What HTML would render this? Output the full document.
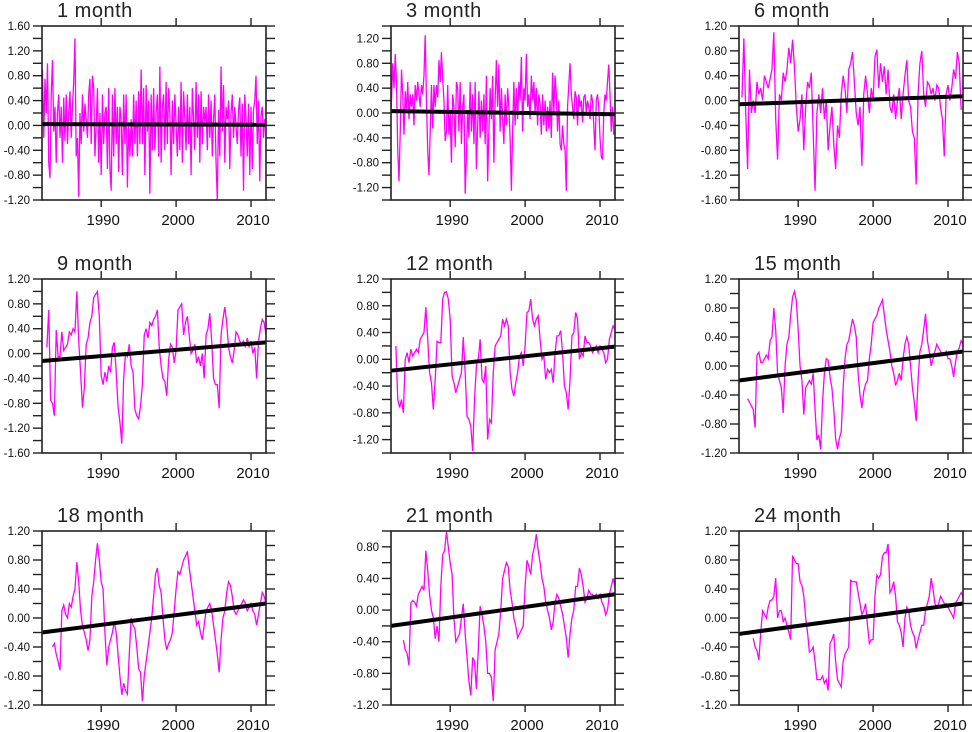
<!DOCTYPE html>
<html><head><meta charset="utf-8">
<style>
html,body{margin:0;padding:0;background:#fff;}
svg{display:block;font-family:"Liberation Sans",sans-serif;}
</style></head>
<body>
<svg id="chart" width="972" height="732" viewBox="0 0 972 732" xmlns="http://www.w3.org/2000/svg"></svg>
<script>
const titles = ["1 month","3 month","6 month","9 month","12 month","15 month","18 month","21 month","24 month"];
const yMins = [-1.2,-1.4,-1.6,-1.6,-1.4,-1.2,-1.2,-1.2,-1.2];
const yMaxs = [1.6,1.4,1.2,1.2,1.2,1.2,1.2,1.0,1.2];
const trendStart = [0.02,0.03,-0.06,-0.12,-0.17,-0.2,-0.2,-0.2,-0.22];
const trendEnd = [0.01,-0.02,0.07,0.18,0.19,0.2,0.2,0.2,0.2];
const seriesStart = [1982.0,1982.0,1982.5,1982.75,1982.75,1983.25,1983.5,1983.75,1984.0];
const seriesStep = [1/6,1/6,0.25,0.25,0.25,0.25,0.25,0.25,0.25];
const xTicks = [1990,2000,2010];

const v1 = [-0.3,0.9,-0.2,0.75,0.2,1.0, -0.6,-0.85,0.5,1.05,-0.1,0.3, -0.6,0.2,0.5,-0.2,0.3,-0.6, 0.45,-0.25,0.5,-0.3,0.2,0.55, -0.2,0.3,0.7,1.4,-0.5,-0.2, -1.15,0.2,-0.3,0.5,-0.1,0.35, 0.1,-0.2,0.5,0.75,-0.3,0.8, 0.6,-0.5,0.0,0.6,-0.6,0.2, -0.8,0.5,-0.3,0.2,0.3,-0.7, 0.6,-0.7,-1.05,0.5,-0.5,0.6, -0.3,0.3,-0.75,0.3,0.1,-0.8, 0.5,-0.3,0.5,-1.0,0.0,-0.5, 0.1,-0.5,0.5,-0.3,0.4,-0.5, 0.55,-0.3,0.9,-0.3,0.6,-0.8, 0.65,-0.1,0.4,-1.1,0.5,-0.4, 0.6,-0.4,0.2,0.5,-0.5,0.95, -0.6,0.3,0.5,-0.4,0.7,-0.3, 0.6,0.2,-0.8,0.4,-0.3,0.5, 0.0,-0.5,0.3,-0.4,0.7,-0.6, 0.55,0.1,-0.4,0.5,-0.3,0.3, -0.8,0.6,0.1,-0.4,0.7,-0.2, 0.5,-0.6,0.55,-0.3,0.3,0.05, 0.3,-0.4,0.5,-0.2,0.4,-0.5, 0.1,0.5,-0.6,-1.2,0.25,-0.5, 0.95,-0.1,0.65,-0.6,0.3,0.1, 0.4,-0.7,0.2,0.5,-0.2,0.3, 0.0,-0.3,0.25,0.45,-0.5,0.35, -1.05,0.5,0.1,-0.5,0.35,-0.8, 0.3,-0.7,0.25,0.4,0.8,-0.3, 0.4,-0.9,0.15,0.3,-0.2,0.1];
const v2 = [-0.25,0.2,0.8,0.4,0.95,0.5, -0.6,-1.1,-0.3,0.7,0.3,-0.35, 0.35,0.0,0.5,-0.1,0.3,0.1, 0.3,-0.2,0.45,0.2,0.5,0.3, 0.1,0.45,0.3,0.6,1.25,0.2, -0.6,-1.0,-0.3,0.45,-0.25,0.45, 0.1,0.45,0.25,0.85,0.5,0.98, 0.55,0.2,-0.45,-0.3,0.45,-0.35, 0.0,-0.8,0.3,0.1,-0.55,0.5, 0.4,-0.3,0.5,-0.5,0.1,0.3, -1.3,-0.7,0.05,-0.4,0.5,-0.3, 0.3,-0.5,0.5,-0.9,-0.2,0.35, -0.4,0.2,-0.3,0.3,-0.5,0.6, -1.1,-0.3,0.4,-0.1,0.6,-0.8, 0.2,0.85,0.1,0.78,-0.3,0.4, -0.1,-0.5,0.3,-0.2,0.4,0.1, -0.4,-1.25,-0.3,0.5,-0.2,0.4, -0.1,0.5,0.2,0.9,-0.3,0.4, 0.2,0.95,0.1,0.3,-0.1,0.6, 0.2,0.5,0.0,0.4,-0.2,0.3, 0.15,-0.35,0.3,-0.2,0.2,-0.3, 0.1,-0.25,0.2,-0.4,0.65,0.0, 0.6,0.3,-0.3,0.2,-0.5,-0.6, -0.2,-0.5,-0.6,-1.25,0.1,0.45, 0.8,0.3,0.1,-0.1,0.35,0.25, -0.2,0.3,0.1,0.2,-0.15,0.25, 0.3,0.0,0.2,0.1,-0.1,0.3, 0.2,-0.2,-0.6,0.2,0.3,0.1, -0.4,-0.7,-0.75,0.0,0.3,0.2, 0.5,0.78,0.3,-0.3,0.1,-0.35];
const v3 = [0.05,1.0, -0.2,-1.1,0.5,-0.2, 0.0,-0.2,0.3,0.1, 0.2,0.0,0.4,0.3, 0.2,0.35,0.5,1.1, -0.3,-0.95,0.1,0.0, 0.45,0.3,0.5,0.85, 0.6,0.98,0.55,-0.1, -0.5,-0.3,0.1,-0.8, -0.1,0.3,0.2,0.45, -0.5,-1.45,-0.2,0.1, -0.2,0.2,-0.3,0.0, -0.8,-0.4,-0.1,-0.7, -1.1,-0.4,-0.6,0.1, 0.4,0.2,-0.2,0.5, 0.6,0.78,0.3,-0.2, -0.4,-0.1,-1.05,0.1, 0.4,0.1,-0.2,0.2, 0.0,0.7,0.82,0.2, 0.6,0.3,0.55,0.1, 0.5,-0.1,-0.2,0.1, -0.3,0.0,0.2,-0.3, 0.1,0.4,0.65,0.0, -0.1,-0.5,-0.6,-1.35, 0.1,0.6,0.8,0.1, -0.1,0.3,0.25,0.1, 0.2,0.0,0.25,0.2, -0.1,-0.3,-0.9,0.1, 0.25,0.0,0.2,0.5, 0.35,0.78,0.6,-0.15];
const v4 = [0.1, 0.7,-0.75,-0.8,-1.0, 0.38,-0.05,-0.05,0.35, 0.05,0.1,0.15,0.35, 0.3,0.4,0.35,1.0, 0.2,-0.3,-0.87,-0.55, 0.15,0.25,0.5,0.6, 0.9,0.95,1.0,0.6, -0.35,-0.5,-0.3,-0.45, -0.2,-0.3,0.1,0.18, -0.3,-0.85,-1.1,-1.45, -0.4,0.0,-0.05,0.15, -0.2,-0.3,-0.9,-1.0, -1.05,-0.85,-0.5,0.3, 0.4,0.25,0.5,0.45, 0.55,0.6,0.7,0.1, -0.2,-0.4,-0.45,-0.68, -0.1,0.15,0.1,-0.15, 0.05,0.7,0.75,0.8, 0.3,0.5,0.6,0.3, 0.0,0.05,0.15,-0.15, -0.05,-0.2,0.0,-0.4, 0.3,0.4,0.65,0.2, -0.4,-0.5,-0.5,-0.88, 0.3,0.55,0.75,0.5, 0.1,-0.05,-0.15,0.05, 0.35,0.3,0.2,0.15, 0.2,0.1,0.25,0.1, 0.2,0.0,0.1,-0.4, 0.2,0.4,0.55,0.5, 0.3];
const v5 = [0.2, -0.6,-0.72,-0.6,-0.8, 0.0,0.1,-0.05,0.15, 0.05,0.1,0.15,0.1, 0.3,0.35,0.4,0.78, 0.3,-0.2,-0.35,-0.75, -0.3,0.27,0.25,0.25, 0.9,1.0,1.01,0.9, 0.6,-0.25,-0.35,-0.5, -0.4,-0.3,-0.2,0.33, -0.2,-0.85,-0.9,-1.0, -1.37,-0.6,-0.1,0.0, 0.3,-0.3,-0.35,-0.1, -1.2,-0.9,-0.95,-0.2, 0.2,0.25,0.3,0.35, 0.6,0.5,0.6,0.5, -0.2,-0.45,-0.55,-0.35, -0.2,0.05,0.1,-0.1, 0.2,0.7,0.72,0.9, 0.6,0.5,0.6,0.65, 0.3,0.0,0.05,-0.3, -0.15,-0.2,-0.15,-0.35, 0.1,0.35,0.35,0.43, 0.1,-0.4,-0.5,-0.75, -0.3,0.35,0.4,0.7, 0.6,0.0,0.1,0.05, 0.35,0.25,0.25,0.2, 0.1,0.15,0.2,0.1, 0.2,0.15,0.1,-0.05, 0.0,0.3,0.4,0.5, 0.45];
const v6 = [-0.45,-0.5,-0.55, -0.6,-0.85,0.15,0.19, 0.05,0.05,0.1,0.15, 0.1,0.35,0.4,0.8, 0.5,-0.1,-0.2,-0.3, -0.65,0.0,0.3,0.4, 0.7,0.95,1.03,0.9, 0.5,0.0,-0.2,-0.67, -0.3,-0.25,-0.2,-0.25, -0.1,-0.6,-1.02,-0.95, -1.15,-0.5,-0.1,0.1, 0.08,-0.15,-0.3,-0.6, -1.0,-1.15,-1.0,-0.9, -0.3,0.1,0.3,0.35, 0.5,0.65,0.55,0.4, -0.1,-0.4,-0.58,-0.35, -0.25,-0.2,0.1,0.3, 0.6,0.65,0.7,0.8, 0.85,0.91,0.7,0.5, 0.35,0.2,0.0,-0.1, -0.27,-0.2,-0.1,-0.2, 0.1,0.3,0.4,0.3, 0.0,-0.3,-0.5,-0.76, -0.2,0.2,0.3,0.5, 0.72,0.35,0.2,0.0, 0.1,0.2,0.3,0.25, 0.2,0.15,0.15,0.2, 0.1,0.1,0.0,-0.15, 0.05,0.2,0.25,0.35, 0.3];
const v7 = [-0.4,-0.35, -0.5,-0.6,-0.72,0.1, 0.18,0.05,0.0,0.2, 0.15,0.3,0.4,0.77, 0.5,0.1,-0.1,-0.2, -0.3,-0.45,-0.3,0.3, 0.5,0.8,1.03,0.8, 0.5,0.4,-0.2,-0.65, -0.4,-0.3,-0.2,-0.05, -0.2,-0.5,-0.8,-1.06, -0.9,-1.0,-1.05,-0.5, 0.0,-0.1,-0.15,-0.4, -0.7,-0.75,-1.15,-0.8, -0.6,-0.4,-0.2,0.0, 0.3,0.6,0.69,0.45, 0.35,0.0,-0.3,-0.44, -0.35,-0.3,-0.2,0.1, 0.4,0.64,0.6,0.7, 0.8,0.85,0.92,0.7, 0.5,0.3,0.1,-0.1, -0.05,-0.2,-0.3,-0.1, 0.1,0.15,0.2,0.1, -0.1,-0.3,-0.5,-0.75, -0.3,0.0,0.1,0.35, 0.5,0.45,0.3,0.1, 0.05,0.1,0.15,0.2, 0.25,0.2,0.1,0.15, 0.2,0.1,0.05,-0.1, 0.05,0.2,0.35,0.3, 0.2];
const v8 = [-0.38, -0.5,-0.55,-0.7,0.09, 0.12,0.1,0.05,0.2, 0.25,0.3,0.25,0.75, 0.5,0.2,0.0,-0.1, -0.36,-0.2,-0.4,0.3, 0.7,0.75,0.99,0.8, 0.6,0.45,-0.1,-0.4, -0.35,-0.3,-0.1,0.08, -0.3,-0.6,-0.9,-1.08, -0.6,-0.65,-1.0,-0.5, 0.05,-0.06,-0.2,-0.4, -0.8,-0.8,-0.85,-1.15, -0.5,-0.4,-0.3,0.0, 0.4,0.5,0.6,0.55, 0.25,0.1,-0.1,-0.2, -0.35,-0.3,-0.25,-0.2, 0.3,0.63,0.55,0.45, 0.7,0.8,0.96,0.75, 0.6,0.4,0.3,0.1, 0.0,-0.1,-0.25,-0.15, 0.1,0.2,0.15,0.05, -0.05,-0.2,-0.35,-0.6, -0.3,-0.1,0.0,0.3, 0.3,0.53,0.45,0.3, 0.1,0.15,0.25,0.2, 0.2,0.15,0.2,0.15, 0.2,0.1,0.05,-0.06, 0.0,0.2,0.3,0.4, 0.3];
const v9 = [-0.28,-0.4,-0.45,-0.58, -0.2,0.1,0.05,0.0, 0.15,0.24,0.25,0.3, 0.55,0.0,0.1,0.1, -0.05,0.0,-0.1,-0.2, -0.3,0.86,0.8,0.75, 0.75,0.5,0.45,0.3, 0.0,-0.2,-0.47,-0.45, -0.4,-0.6,-0.85,-0.85, -0.85,-0.8,-0.9,-0.85, -1.0,-0.35,-0.3,-0.22, -0.6,-0.85,-0.9,-0.95, -0.6,-0.5,-0.45,-0.4, 0.52,0.5,0.5,0.5, 0.35,0.2,0.05,0.1, 0.2,-0.1,-0.35,-0.3, -0.3,0.3,0.59,0.55, 0.6,0.85,0.9,0.9, 1.02,0.35,0.4,0.5, 0.3,-0.05,-0.1,-0.2, -0.4,0.0,0.15,0.1, -0.1,-0.2,-0.25,-0.42, -0.3,-0.2,-0.1,-0.1, 0.1,0.2,0.3,0.55, 0.4,0.2,0.15,0.2, 0.3,0.25,0.2,0.2, 0.15,0.1,0.05,0.0, 0.2,0.25,0.3,0.35, 0.3];
const allSeries = [v1,v2,v3,v4,v5,v6,v7,v8,v9];

const NS = "http://www.w3.org/2000/svg";
const svg = document.getElementById("chart");
const colLeft = [42,391,739], rowTop = [26,279,531];
const PW = 224, PH = 174, X0 = 1982.1, X1 = 2012.0;
function mk(tag, attrs, parent){ const e=document.createElementNS(NS,tag); for(const k in attrs) e.setAttribute(k,attrs[k]); (parent||svg).appendChild(e); return e; }

for (let p=0;p<9;p++){
  const L = colLeft[p%3], T = rowTop[Math.floor(p/3)], R = L+PW, B = T+PH;
  const ymin = yMins[p], ymax = yMaxs[p];
  const xs = yr => L + (yr - X0)/(X1 - X0)*PW;
  const ys = v => B - (v - ymin)/(ymax - ymin)*PH;
  const g = mk("g",{});
  
  

  const cp = mk("clipPath",{id:"cp"+p}, g);
  mk("rect",{x:L,y:T,width:PW,height:PH}, cp);

  const title = mk("text",{x:L+15,y:T-9,"font-size":"20","fill":"#222","letter-spacing":"0.5"}, g);
  title.textContent = titles[p];
  
  

  const vals = allSeries[p];
  let d = "";
  vals.forEach((v,i)=>{ const yr = seriesStart[p] + i*seriesStep[p]; d += (i?"L":"M") + xs(yr).toFixed(2) + " " + ys(v).toFixed(2); });
  const line = mk("path",{d:d, fill:"none", stroke:"#ff00ff", "stroke-width":"1.3", "clip-path":"url(#cp"+p+")"}, g);
  
  

  const tr = mk("line",{x1:xs(X0),y1:ys(trendStart[p]),x2:xs(X1),y2:ys(trendEnd[p]),stroke:"#000","stroke-width":"4"}, g);
  
  

  const fr = mk("rect",{x:L,y:T,width:PW,height:PH,fill:"none",stroke:"#222","stroke-width":"1.6"}, g);
  
  

  const n0 = Math.round(ymin/0.2), n1 = Math.round(ymax/0.2);
  for (let n=n0;n<=n1;n++){
    const v = n*0.2, y = ys(v);
    mk("line",{x1:L-9,y1:y,x2:L,y2:y,stroke:"#222","stroke-width":"1.4"}, g);
    mk("line",{x1:R,y1:y,x2:R+9,y2:y,stroke:"#222","stroke-width":"1.4"}, g);
    if (Math.abs(n)%2===0){
      const t = mk("text",{x:L-12,y:y+4,"font-size":"11.5","text-anchor":"end",fill:"#111"}, g);
      t.textContent = (Math.abs(v)<1e-9?0:v).toFixed(2);
      
      
    }
  }
  xTicks.forEach(yr=>{
    const x = xs(yr);
    mk("line",{x1:x,y1:T-8,x2:x,y2:T,stroke:"#222","stroke-width":"1.4"}, g);
    mk("line",{x1:x,y1:B,x2:x,y2:B+7,stroke:"#222","stroke-width":"1.4"}, g);
    const t = mk("text",{x:x+2,y:B+25,"font-size":"15","text-anchor":"middle",fill:"#111"}, g);
    t.textContent = yr;
    
    
  });
}
</script>
</body></html>
